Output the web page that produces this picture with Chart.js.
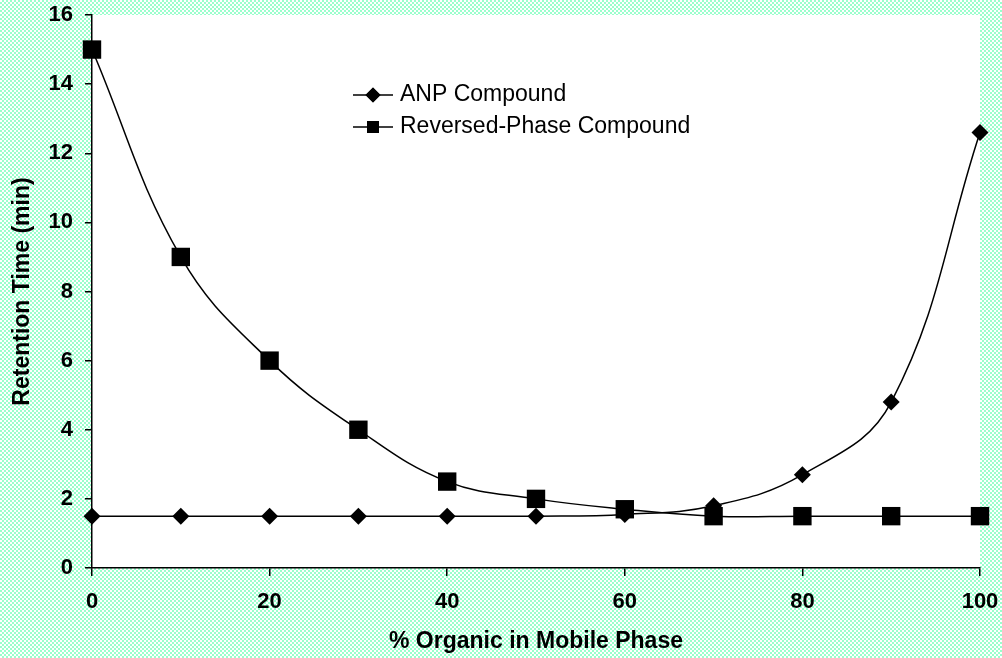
<!DOCTYPE html>
<html>
<head>
<meta charset="UTF-8" />
<script src="https://cdn.jsdelivr.net/npm/chart.js"></script>
<style>
  body, html { margin: 0; padding: 0; background: #fff; }
  #wrap { width: 1002px; height: 658px; }
</style>
</head>
<body>
<div id="wrap"><canvas id="myChart" width="1002" height="658"></canvas></div>
<script>
const organic = [0, 10, 20, 30, 40, 50, 60, 70, 80, 90, 100];
const anpTimes = [1.5, 1.5, 1.5, 1.5, 1.5, 1.5, 1.55, 1.8, 2.7, 4.8, 12.6];
const rpTimes = [15, 9, 6, 4, 2.5, 2.0, 1.7, 1.5, 1.5, 1.5, 1.5];
const xTicks = [0, 20, 40, 60, 80, 100];
const yTicks = [0, 2, 4, 6, 8, 10, 12, 14, 16];

const FONT = "Liberation Sans, Arial, sans-serif";

// small green/white checkerboard used behind the plot
function checkerPattern(ctx) {
  const c = document.createElement('canvas');
  c.width = 4; c.height = 4;
  const p = c.getContext('2d');
  p.fillStyle = '#99ffcc';
  p.fillRect(0, 0, 4, 4);
  p.fillStyle = '#ffffff';
  p.fillRect(0, 0, 2, 2);
  p.fillRect(2, 2, 2, 2);
  return ctx.createPattern(c, 'repeat');
}

const background = {
  id: 'background',
  beforeDraw(chart) {
    const { ctx, chartArea: a } = chart;
    ctx.save();
    ctx.fillStyle = checkerPattern(ctx);
    ctx.fillRect(0, 0, chart.width, chart.height);
    ctx.fillStyle = '#fff';
    ctx.fillRect(a.left, a.top, a.right - a.left, a.bottom - a.top);
    ctx.restore();
  }
};

// legend drawn inside the plot: line sample with marker, then label
const innerLegend = {
  id: 'innerLegend',
  afterDraw(chart) {
    const { ctx } = chart;
    const x0 = 353, y0 = 95, rowH = 32;
    ctx.save();
    chart.data.datasets.forEach((ds, i) => {
      const y = y0 + i * rowH;
      ctx.strokeStyle = '#000';
      ctx.lineWidth = 1.5;
      ctx.beginPath();
      ctx.moveTo(x0, y);
      ctx.lineTo(x0 + 40, y);
      ctx.stroke();
      ctx.fillStyle = '#000';
      Chart.helpers.drawPoint(ctx, {
        pointStyle: ds.pointStyle,
        radius: ds.legendRadius,
        borderWidth: 0
      }, x0 + 20, y);
      ctx.fill();
      ctx.font = '23px ' + FONT;
      ctx.textBaseline = 'middle';
      ctx.fillText(ds.label, x0 + 47, y);
    });
    ctx.restore();
  }
};

const ctx = document.getElementById('myChart').getContext('2d');
new Chart(ctx, {
  type: 'line',
  data: {
    datasets: [
      {
        label: 'ANP Compound',
        data: organic.map((x, i) => ({ x, y: anpTimes[i] })),
        borderColor: '#000',
        borderWidth: 1.5,
        backgroundColor: '#000',
        pointStyle: 'rectRot',
        pointRadius: 8.5,
        legendRadius: 7.5,
        pointBorderWidth: 0,
        tension: 0.4,
        clip: false
      },
      {
        label: 'Reversed-Phase Compound',
        data: organic.map((x, i) => ({ x, y: rpTimes[i] })),
        borderColor: '#000',
        borderWidth: 1.5,
        backgroundColor: '#000',
        pointStyle: 'rect',
        pointRadius: 13,
        legendRadius: 8.5,
        pointBorderWidth: 0,
        tension: 0.4,
        clip: false
      }
    ]
  },
  options: {
    responsive: false,
    animation: false,
    layout: { padding: { top: 15, right: 22, bottom: 0, left: 0 } },
    plugins: {
      legend: { display: false },
      tooltip: { enabled: false }
    },
    scales: {
      x: {
        type: 'linear',
        min: 0,
        max: 100,
        afterBuildTicks(scale) { scale.ticks = xTicks.map(v => ({ value: v })); },
        afterFit(scale) {
          scale.height = 90;
          scale.paddingLeft = 0;
          scale.paddingRight = 0;
        },
        border: { color: '#000', width: 1.5 },
        grid: { drawOnChartArea: false, drawTicks: true, tickLength: 8, color: '#000', lineWidth: 1.5 },
        ticks: {
          color: '#000',
          padding: 13,
          maxRotation: 0,
          font: { family: FONT, size: 22, weight: 'bold' }
        },
        title: {
          display: true,
          text: '% Organic in Mobile Phase',
          color: '#000',
          padding: { top: 3, bottom: 3 },
          font: { family: FONT, size: 23, weight: 'bold' }
        }
      },
      y: {
        type: 'linear',
        min: 0,
        max: 16,
        afterBuildTicks(scale) { scale.ticks = yTicks.map(v => ({ value: v })); },
        afterFit(scale) {
          scale.width = 92;
          scale.paddingTop = 0;
          scale.paddingBottom = 0;
        },
        border: { color: '#000', width: 1.5 },
        grid: { drawOnChartArea: false, drawTicks: true, tickLength: 7, color: '#000', lineWidth: 1.5 },
        ticks: {
          color: '#000',
          padding: 12,
          font: { family: FONT, size: 22, weight: 'bold' }
        },
        title: {
          display: true,
          text: 'Retention Time (min)',
          color: '#000',
          padding: { top: 9, bottom: 9 },
          font: { family: FONT, size: 23, weight: 'bold' }
        }
      }
    }
  },
  plugins: [background, innerLegend]
});
</script>
</body>
</html>
